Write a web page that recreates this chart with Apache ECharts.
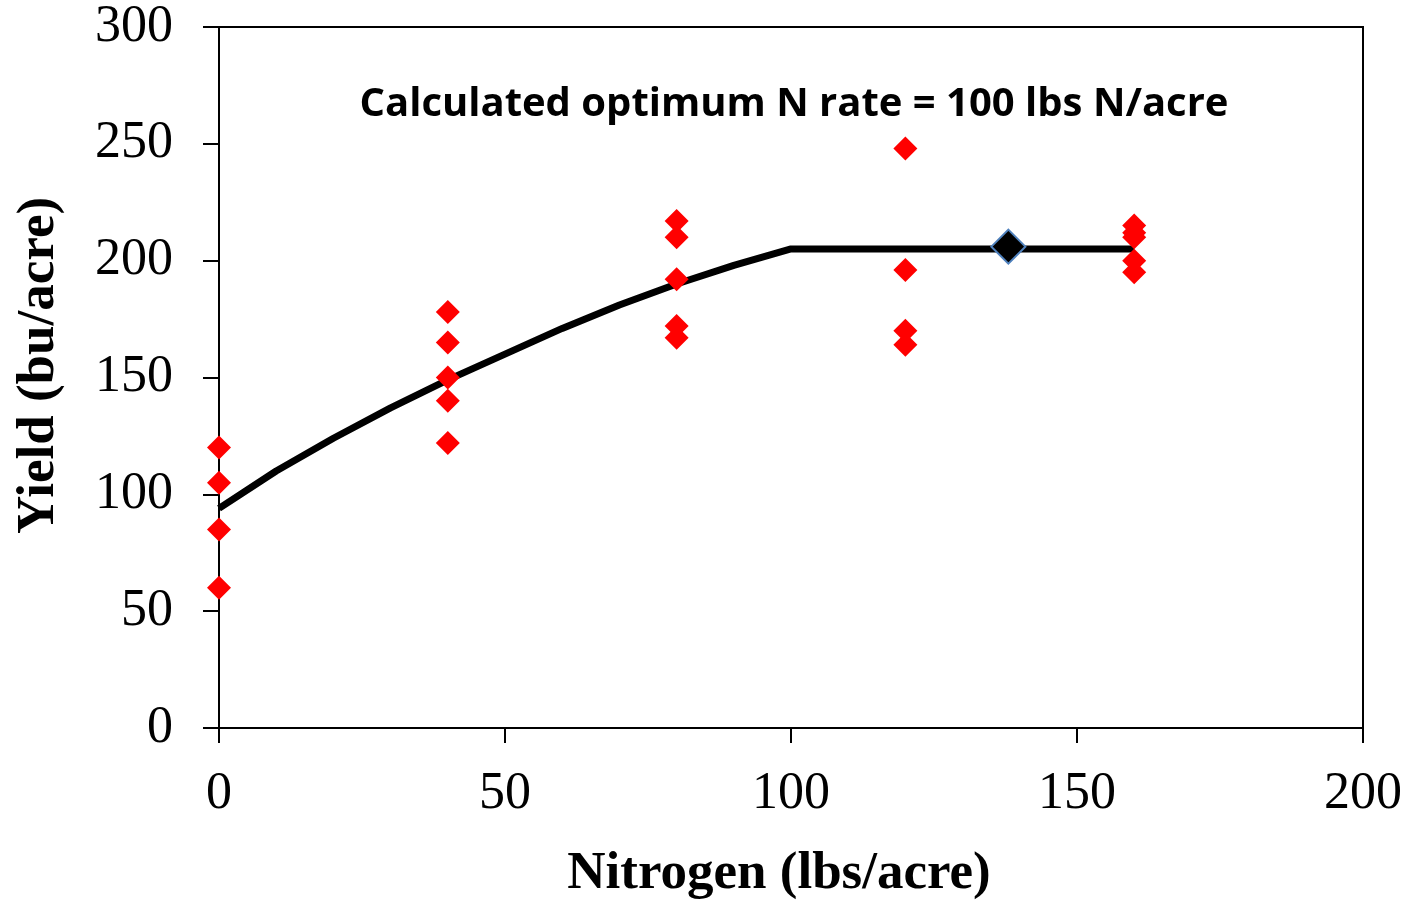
<!DOCTYPE html>
<html>
<head>
<meta charset="utf-8">
<script src="https://cdn.jsdelivr.net/npm/echarts@6/dist/echarts.min.js"></script>
<style>
html,body{margin:0;padding:0;background:#fff;}
#chart{width:1415px;height:903px;}
</style>
</head>
<body>
<div id="chart"></div>
<script>
// Observed yields (N rate, yield)
const obsN = [0,0,0,0, 40,40,40,40,40, 80,80,80,80,80, 120,120,120,120, 160,160,160,160,160];
const obsYield = [120,105,85,60, 178,165,150,140,122, 217,210,192,172,167, 248,196,170,164, 215,212,210,200,195];

// Fitted quadratic-plateau curve
const fitN = [0,10,20,30,40,50,60,70,80,90,100,160];
const fitYield = [94,110,124,137,149,160,171,181,190,198,205,205];

// Optimum marker
const optN = [138];
const optYield = [206];

const xTicks = {min:0, max:200, interval:50};
const yTicks = {min:0, max:300, interval:50};

const annotation = 'Calculated optimum N rate = 100 lbs N/acre';
const xTitle = 'Nitrogen (lbs/acre)';
const yTitle = 'Yield (bu/acre)';

const serif = '"Liberation Serif", "Times New Roman", serif';

const chart = echarts.init(document.getElementById('chart'));
chart.setOption({
  animation: false,
  backgroundColor: '#fff',
  grid: {left:219, right:52, top:27, bottom:175, containLabel:false, outerBoundsMode:'none', show:true, borderColor:'#000', borderWidth:2, backgroundColor:'transparent'},
  xAxis: {
    type:'value', min:xTicks.min, max:xTicks.max, interval:xTicks.interval,
    name: xTitle, nameLocation:'middle', nameGap:120,
    nameTextStyle:{fontFamily:serif, fontSize:53, fontWeight:'bold', color:'#000', padding:[0,24,0,0]},
    axisLine:{show:true, onZero:false, lineStyle:{color:'#000', width:2}},
    axisTick:{show:true, inside:false, length:15, lineStyle:{color:'#000', width:2}},
    axisLabel:{fontFamily:serif, fontSize:52, color:'#000', margin:40},
    splitLine:{show:false}
  },
  yAxis: {
    type:'value', min:yTicks.min, max:yTicks.max, interval:yTicks.interval,
    name: yTitle, nameLocation:'middle', nameGap:153, nameRotate:90,
    nameTextStyle:{fontFamily:serif, fontSize:53, fontWeight:'bold', color:'#000', padding:[0,0,0,24]},
    axisLine:{show:true, onZero:false, lineStyle:{color:'#000', width:2}},
    axisTick:{show:true, inside:false, length:16, lineStyle:{color:'#000', width:2}},
    axisLabel:{fontFamily:serif, fontSize:52, color:'#000', margin:46},
    splitLine:{show:false}
  },
  graphic: [{
    type:'text', x: 794, y: 105, z: 10,
    style:{text: annotation, font:'bold 40px "Open Sans", Lato, sans-serif', fill:'#000', align:'center', verticalAlign:'middle'}
  }],
  series: [
    {
      type:'line', data: fitN.map((n,i)=>[n, fitYield[i]]),
      showSymbol:false, smooth:false, z:2,
      lineStyle:{color:'#000', width:7}
    },
    {
      type:'scatter', data: obsN.map((n,i)=>[n, obsYield[i]]),
      symbol:'diamond', symbolSize:24, z:3,
      itemStyle:{color:'#ff0000', opacity:1}
    },
    {
      type:'scatter', data: optN.map((n,i)=>[n, optYield[i]]),
      symbol:'diamond', symbolSize:34, z:4,
      itemStyle:{color:'#000', borderColor:'#4f81bd', borderWidth:2, opacity:1}
    }
  ]
});
</script>
</body>
</html>
